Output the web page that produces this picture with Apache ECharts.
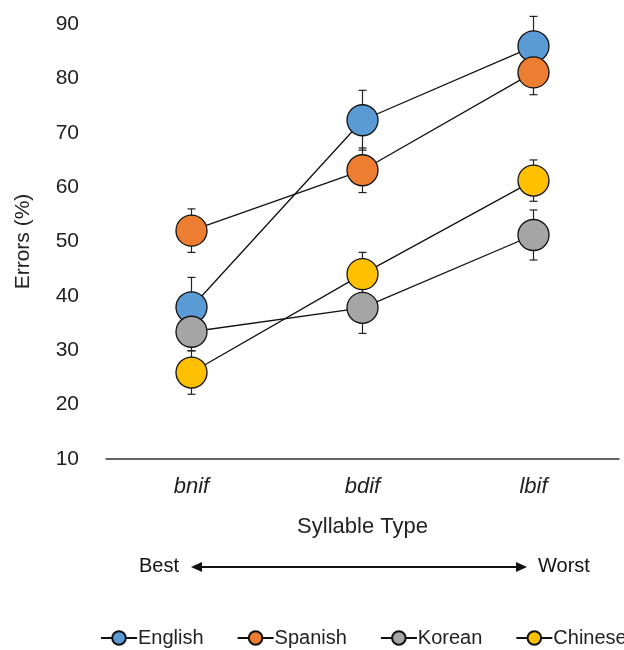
<!DOCTYPE html>
<html><head><meta charset="utf-8">
<script src="https://cdn.jsdelivr.net/npm/echarts@6/dist/echarts.min.js"></script>
<style>html,body{margin:0;padding:0;background:#fff}#c{width:624px;height:650px}</style>
</head><body><div id="c"></div>
<script>
var categories = ['bnif', 'bdif', 'lbif'];
var yTicks = [10, 20, 30, 40, 50, 60, 70, 80, 90];
var english = [37.9, 72.3, 85.9];
var spanish = [52.0, 63.1, 81.1];
var korean = [33.4, 37.8, 51.2];
var chinese = [25.9, 44.0, 61.2];
var englishErr = [5.5, 5.5, 5.5];
var spanishErr = [4.0, 4.1, 4.1];
var koreanErr = [3.5, 4.7, 4.6];
var chineseErr = [4.0, 4.0, 3.8];
var names = ['English', 'Spanish', 'Korean', 'Chinese'];
var colors = ['#5B9BD5', '#ED7D31', '#A5A5A5', '#FFC000'];

var FONT = '"Liberation Sans", Arial, sans-serif';
var TXT = '#222';
var vals = [english, spanish, korean, chinese];
var errs = [englishErr, spanishErr, koreanErr, chineseErr];

var errData = [];
vals.forEach(function (v, s) {
  v.forEach(function (y, i) { errData.push([i, y - errs[s][i], y + errs[s][i]]); });
});

var series = [{
  type: 'custom',
  z: 1,
  silent: true,
  renderItem: function (params, api) {
    var x = api.value(0);
    var lo = api.coord([x, api.value(1)]);
    var hi = api.coord([x, api.value(2)]);
    var w = 4;
    var st = { stroke: '#222', lineWidth: 1.2 };
    return { type: 'group', children: [
      { type: 'line', shape: { x1: lo[0], y1: lo[1], x2: hi[0], y2: hi[1] }, style: st },
      { type: 'line', shape: { x1: lo[0] - w, y1: lo[1], x2: lo[0] + w, y2: lo[1] }, style: st },
      { type: 'line', shape: { x1: hi[0] - w, y1: hi[1], x2: hi[0] + w, y2: hi[1] }, style: st }
    ]};
  },
  data: errData
}];
names.forEach(function (n, s) {
  series.push({
    name: n, type: 'line', data: vals[s], z: 2 + s,
    symbol: 'circle', symbolSize: 31,
    lineStyle: { color: '#111', width: 1.3 },
    itemStyle: { color: colors[s], borderColor: '#111', borderWidth: 1.3 },
    emphasis: { disabled: true },
    animation: false
  });
});

var chart = echarts.init(document.getElementById('c'));
chart.setOption({
  animation: false,
  grid: { left: 106, right: 5, top: 24, bottom: 191 },
  textStyle: { fontFamily: FONT },
  xAxis: {
    type: 'category', data: categories,
    axisLine: { lineStyle: { color: '#333', width: 1.5 } },
    axisTick: { show: false },
    axisLabel: { fontStyle: 'italic', fontSize: 22, color: TXT, margin: 17, fontFamily: FONT },
    name: 'Syllable Type', nameLocation: 'middle', nameGap: 57,
    nameTextStyle: { fontSize: 22, color: TXT, fontFamily: FONT }
  },
  yAxis: {
    type: 'value', min: yTicks[0], max: yTicks[yTicks.length - 1], interval: 10,
    axisLine: { show: false }, axisTick: { show: false }, splitLine: { show: false },
    axisLabel: { fontSize: 21, color: TXT, margin: 27, fontFamily: FONT },
    name: 'Errors (%)', nameLocation: 'middle', nameGap: 72, nameRotate: 90,
    nameTextStyle: { fontSize: 21, color: TXT, fontFamily: FONT }
  },
  legend: {
    data: names, bottom: -3, left: 95, width: 700, itemWidth: 36, itemHeight: 17, itemGap: 33,
    textStyle: { fontSize: 20, color: TXT, fontFamily: FONT, padding: [0, 0, 0, -4] }
  },
  graphic: [
    { type: 'text', left: 139, top: 556, style: { text: 'Best', fontSize: 20, fill: '#111', fontFamily: FONT } },
    { type: 'text', left: 538, top: 556, style: { text: 'Worst', fontSize: 20, fill: '#111', fontFamily: FONT } },
    { type: 'line', shape: { x1: 196, y1: 567, x2: 523, y2: 567 }, style: { stroke: '#111', lineWidth: 2.2 } },
    { type: 'polygon', shape: { points: [[191, 567], [202, 562], [202, 572]] }, style: { fill: '#111' } },
    { type: 'polygon', shape: { points: [[527, 567], [516, 562], [516, 572]] }, style: { fill: '#111' } }
  ],
  series: series
});
</script>
</body></html>
